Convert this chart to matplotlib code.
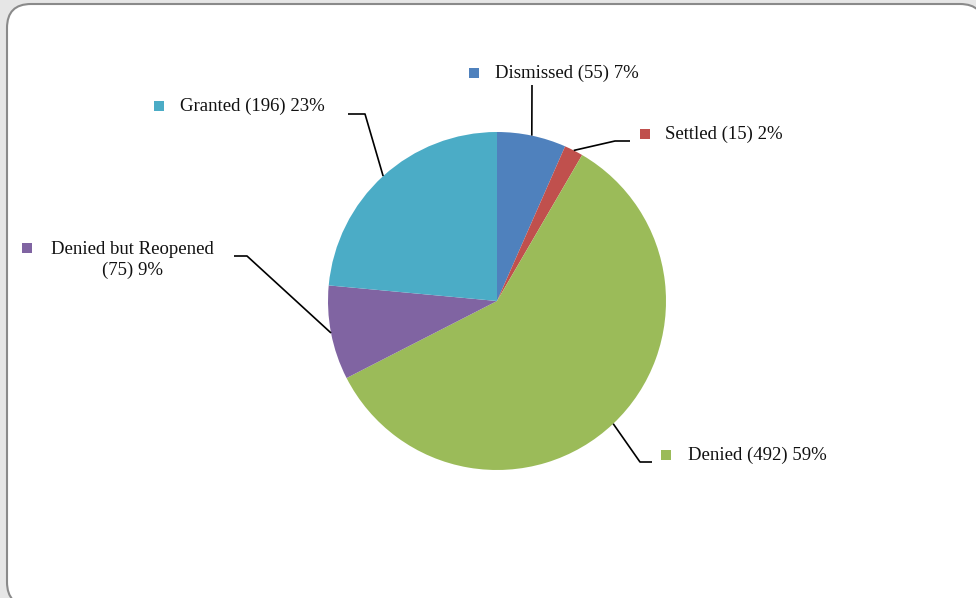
import numpy as np
import matplotlib
matplotlib.use("Agg")
import matplotlib.pyplot as plt
from matplotlib.patches import FancyBboxPatch

categories = ["Dismissed", "Settled", "Denied", "Denied but Reopened", "Granted"]
counts = [55, 15, 492, 75, 196]
percents = [7, 2, 59, 9, 23]
colors = ["#4F81BD", "#C0504D", "#9BBB59", "#8064A2", "#4BACC6"]

W, H = 976, 598
plt.rcParams["font.family"] = ["Liberation Serif", "DejaVu Serif"]

fig = plt.figure(figsize=(W / 100, H / 100), dpi=100)
fig.patch.set_facecolor("#e6e6e6")
ax = fig.add_axes([0, 0, 1, 1])

# chart area frame with rounded corners
frame = FancyBboxPatch((7, -8), 977, 602, boxstyle="round,pad=0,rounding_size=24",
                       facecolor="white", edgecolor="#8a8a8a", linewidth=1.5, zorder=0)
ax.add_patch(frame)

cx, cy, r = 497, H - 301, 169
ax.pie(counts, colors=colors, startangle=90, counterclock=False,
       center=(cx, cy), radius=r, frame=True,
       wedgeprops=dict(linewidth=0, zorder=2))
ax.set_xlim(0, W)
ax.set_ylim(0, H)
ax.set_aspect("equal")
ax.axis("off")

total = sum(counts)
# label layout: elbow points of leader lines, marker position, text anchor
layout = {
    "Dismissed": dict(path=[(532, 85)], marker=(474, 73), text=(495, 73), ha="left"),
    "Settled": dict(path=[(615, 141), (630, 141)], marker=(645, 134), text=(665, 134), ha="left"),
    "Denied": dict(path=[(640, 462), (652, 462)], marker=(666, 455), text=(688, 455), ha="left"),
    "Denied but Reopened": dict(path=[(247, 256), (234, 256)], marker=(27, 248), text=(132, 260),
                                ha="center"),
    "Granted": dict(path=[(365, 114), (348, 114)], marker=(159, 106), text=(180, 106), ha="left"),
}

cum = 0
for name, n, pct, c in zip(categories, counts, percents, colors):
    mid = (cum + n / 2) / total * 2 * np.pi
    cum += n
    sx = cx + r * np.sin(mid)
    sy = cy + r * np.cos(mid)
    L = layout[name]
    xs = [sx] + [p[0] for p in L["path"]]
    ys = [sy] + [H - p[1] for p in L["path"]]
    ax.plot(xs, ys, color="black", linewidth=1.2, zorder=3, solid_capstyle="butt")
    mx, my = L["marker"]
    ax.scatter([mx], [H - my], marker="s", s=55, color=c, zorder=3, linewidths=0)
    if name == "Denied but Reopened":
        label = f"{name}\n({n}) {pct}%"
    else:
        label = f"{name} ({n}) {pct}%"
    tx, ty = L["text"]
    ax.text(tx, H - ty, label, ha=L["ha"], va="center", fontsize=13.5,
            multialignment="center", linespacing=1.3, color="#111111", zorder=4)

fig.savefig("out.png", dpi=100, facecolor=fig.get_facecolor())
